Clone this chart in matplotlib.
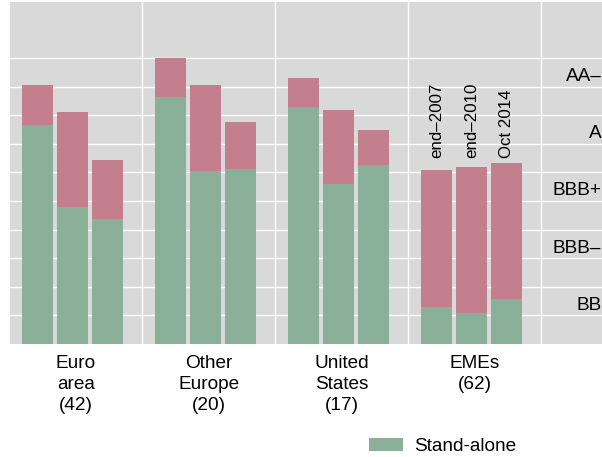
import matplotlib
matplotlib.use("Agg")
import matplotlib.pyplot as plt
import matplotlib.transforms as mtransforms
import numpy as np

plt.rcParams['font.family'] = ['Liberation Sans', 'DejaVu Sans']

# ---- data ----
categories = ["Euro\narea\n(42)", "Other\nEurope\n(20)", "United\nStates\n(17)", "EMEs\n(62)"]
periods = ["end\u20132007", "end\u20132010", "Oct 2014"]
standalone = [[7.67, 4.80, 4.38],
              [8.62, 6.04, 6.11],
              [8.29, 5.61, 6.27],
              [1.30, 1.07, 1.58]]
all_in = [[9.06, 8.12, 6.44],
          [10.01, 9.06, 7.77],
          [9.31, 8.19, 7.49],
          [6.09, 6.20, 6.34]]
rating_labels = ["BB", "BBB\u2013", "BBB+", "A", "AA\u2013"]
rating_pos = [1.35, 3.35, 5.35, 7.35, 9.35]
legend_label = "Stand-alone"

# ---- style ----
GREEN = "#8BB09A"
PINK = "#C47F8F"
BG = "#D9D9D9"
FS = 13.7

fig = plt.figure(figsize=(6.02, 4.57), dpi=100)
W, H = 602, 457
left_px, bottom_px, top_px = 9.5, 344, 2
ax = fig.add_axes([left_px / W, (H - bottom_px) / H, 1 - left_px / W + 0.001, (bottom_px - top_px) / H])
ax.set_facecolor(BG)
for s in ax.spines.values():
    s.set_visible(False)

group_w = 4.0
offsets = np.array([0.843, 1.898, 2.952])
bar_w = 0.934

sa = np.array(standalone)
tot = np.array(all_in)
green_handle = None
for g in range(len(categories)):
    xs = g * group_w + offsets
    b1 = ax.bar(xs, sa[g], width=bar_w, color=GREEN, zorder=3, linewidth=0)
    ax.bar(xs, tot[g] - sa[g], bottom=sa[g], width=bar_w, color=PINK, zorder=3, linewidth=0)
    if green_handle is None:
        green_handle = b1

# period labels above EME bars
g_last = len(categories) - 1
for i, p in enumerate(periods):
    ax.text(g_last * group_w + offsets[i], 6.5, p, rotation=90, ha='center', va='bottom',
            fontsize=12.2, zorder=4)

ax.set_xlim(0, 592.5 / 33.2)
ax.set_ylim(0, (bottom_px - top_px) / 28.6)

# grid
for yv in range(1, 11):
    ax.axhline(yv, color='white', lw=1.0, zorder=1)
for k in range(1, 5):
    ax.axvline(k * group_w, color='white', lw=1.0, zorder=1)

ax.set_yticks([])
ax.set_xticks([g * group_w + group_w / 2 for g in range(len(categories))])
ax.set_xticklabels(categories, fontsize=FS)
ax.tick_params(axis='x', length=0, pad=8)
for lbl in ax.get_xticklabels():
    lbl.set_linespacing(1.32)

# rating labels at right
trans = mtransforms.blended_transform_factory(fig.transFigure, ax.transData)
for lab, pos in zip(rating_labels, rating_pos):
    ax.text(601.5 / W, pos, lab, transform=trans, ha='right', va='center', fontsize=FS, zorder=5)

fig.legend([green_handle], [legend_label], loc='lower left',
           bbox_to_anchor=(369 / W, (H - 455) / H), frameon=False, fontsize=FS,
           handlelength=1.8, handleheight=0.7, handletextpad=0.55, borderpad=0, borderaxespad=0)

fig.savefig("out.png", dpi=100)
